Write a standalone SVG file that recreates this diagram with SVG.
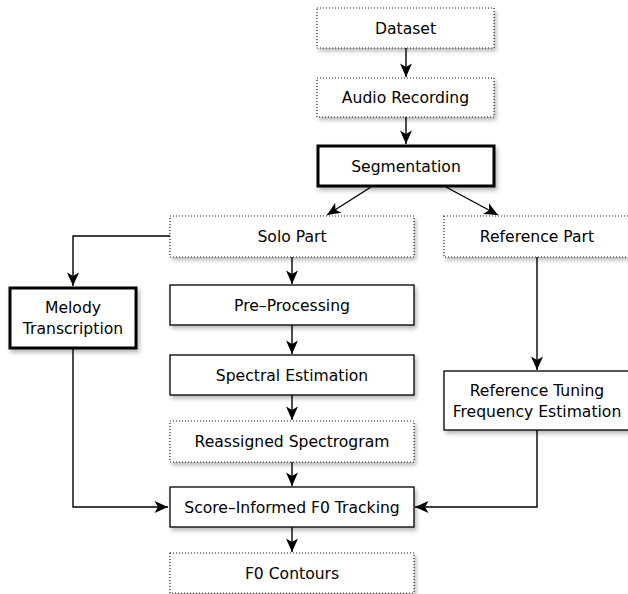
<svg xmlns="http://www.w3.org/2000/svg" width="628" height="594" viewBox="0 0 628 594">
<defs>
<filter id="sh" x="-10%" y="-20%" width="130%" height="160%">
<feDropShadow dx="2" dy="3" stdDeviation="2" flood-color="#000" flood-opacity="0.28"/>
</filter>
<marker id="ah" markerUnits="userSpaceOnUse" markerWidth="16" markerHeight="14" viewBox="-14 -7 16 14" refX="0" refY="0" orient="auto">
<path d="M0,0 L-13.5,-6 L-10,0 L-13.5,6 Z" fill="#000"/>
</marker>
<style>
.b{fill:#fff;filter:url(#sh)}
.dot{stroke:#222;stroke-width:1.2;stroke-dasharray:1 2}
.thin{stroke:#000;stroke-width:1.3}
.thick{stroke:#000;stroke-width:3}
text{font-family:"DejaVu Sans","Liberation Sans",sans-serif;font-size:15.6px;fill:#000;text-anchor:middle}
.c path{fill:none;stroke:#000;stroke-width:1.4;marker-end:url(#ah)}
</style>
</defs>
<g class="c" id="connectors">
<path d="M406,48 V77"/>
<path d="M406,117 V144"/>
<path d="M371,187 L327,215"/>
<path d="M446,187 L498,215"/>
<path d="M170,236 H73 V286"/>
<path d="M292,257 V284"/>
<path d="M292,325 V354"/>
<path d="M292,395 V420"/>
<path d="M292,462 V486"/>
<path d="M292,527 V552"/>
<path d="M73,349 V507 H168"/>
<path d="M537,257 V370"/>
<path d="M537,430 V507 H415"/>
</g>
<g id="dataset"><rect class="b dot" x="317" y="8" width="177" height="40"/><text x="405.5" y="33.5">Dataset</text></g>
<g id="audio"><rect class="b dot" x="317" y="78" width="177" height="39"/><text x="405.5" y="103">Audio Recording</text></g>
<g id="segmentation"><rect class="b thick" x="318" y="146" width="176" height="40"/><text x="406" y="171.5">Segmentation</text></g>
<g id="solo"><rect class="b dot" x="170" y="216" width="244" height="41"/><text x="292" y="242">Solo Part</text></g>
<g id="refpart"><rect class="b dot" x="444" y="216" width="186" height="41"/><text x="537" y="242">Reference Part</text></g>
<g id="melody"><rect class="b thick" x="10" y="288" width="126" height="60"/><text x="73" y="313">Melody</text><text x="73" y="333.5">Transcription</text></g>
<g id="pre"><rect class="b thin" x="170" y="285" width="244" height="40"/><text x="292" y="310.5">Pre–Processing</text></g>
<g id="spectral"><rect class="b thin" x="170" y="355" width="244" height="40"/><text x="292" y="380.5">Spectral Estimation</text></g>
<g id="reassigned"><rect class="b dot" x="170" y="421" width="244" height="41"/><text x="292" y="447">Reassigned Spectrogram</text></g>
<g id="tuning"><rect class="b thin" x="444" y="371" width="186" height="59"/><text x="537" y="396">Reference Tuning</text><text x="537" y="416.5">Frequency Estimation</text></g>
<g id="score"><rect class="b thin" x="170" y="487" width="244" height="40"/><text x="292" y="512.5">Score–Informed F0 Tracking</text></g>
<g id="f0"><rect class="b dot" x="170" y="553" width="244" height="40"/><text x="292" y="578.5">F0 Contours</text></g>
</svg>
